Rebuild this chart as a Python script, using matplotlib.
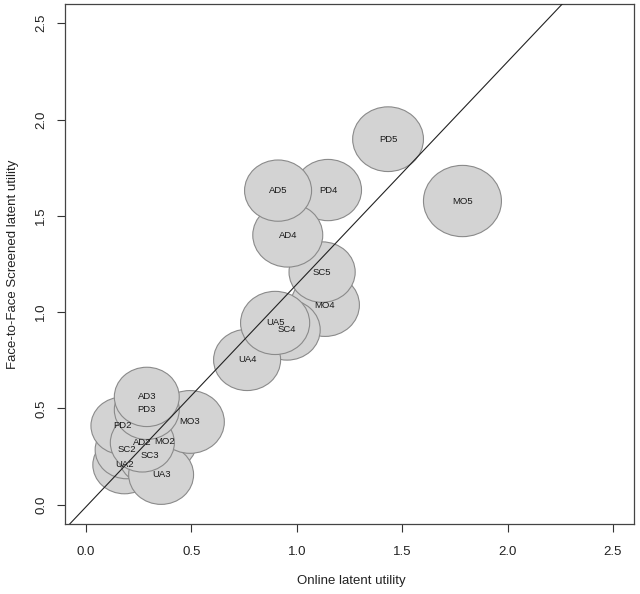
import matplotlib
matplotlib.use("Agg")
from matplotlib import pyplot as plt
from matplotlib.patches import Circle

plt.rcParams["font.family"] = ["Liberation Sans", "DejaVu Sans"]

# draw order: earlier items sit underneath later ones
labels = ["UA2", "SC2", "PD2", "SC3", "MO2", "UA3", "MO3", "AD2", "PD3", "AD3",
          "MO4", "SC4", "UA4", "UA5", "SC5", "PD4", "AD4", "AD5", "PD5", "MO5"]
online = [0.182, 0.193, 0.172, 0.304, 0.375, 0.356, 0.493, 0.267, 0.288, 0.288,
          1.134, 0.954, 0.764, 0.897, 1.120, 1.148, 0.957, 0.911, 1.433, 1.786]
f2f = [0.207, 0.285, 0.410, 0.254, 0.327, 0.156, 0.430, 0.322, 0.493, 0.560,
       1.037, 0.908, 0.752, 0.944, 1.208, 1.634, 1.400, 1.631, 1.898, 1.577]
radius = [0.150, 0.150, 0.149, 0.150, 0.150, 0.154, 0.163, 0.152, 0.154, 0.154,
          0.163, 0.157, 0.159, 0.164, 0.157, 0.159, 0.166, 0.159, 0.168, 0.185]

FIT_INTERCEPT = -0.01
FIT_SLOPE = 1.155

ticks = [0.0, 0.5, 1.0, 1.5, 2.0, 2.5]

fig = plt.figure(figsize=(6.4, 5.94), dpi=100)
ax = fig.add_axes([0.1016, 0.1178, 0.889, 0.8755])

for x, y, r in zip(online, f2f, radius):
    ax.add_patch(Circle((x, y), r, facecolor="#d3d3d3", edgecolor="#8a8a8a",
                        linewidth=0.8, zorder=2))
for x, y, lab in zip(online, f2f, labels):
    ax.text(x, y, lab, ha="center", va="center", fontsize=6.8, color="#1a1a1a", zorder=4)

ax.axline((0, FIT_INTERCEPT), slope=FIT_SLOPE, color="#222222", linewidth=0.8, zorder=3)

ax.set_xlim(-0.1, 2.6)
ax.set_ylim(-0.1, 2.6)
ax.set_xticks(ticks)
ax.set_yticks(ticks)
ax.set_xticklabels([f"{t:.1f}" for t in ticks])
ax.set_yticklabels([f"{t:.1f}" for t in ticks], rotation=90, va="center")
ax.tick_params(axis="both", direction="out", length=5.8, width=0.8, color="#333333",
               labelsize=9.5, labelcolor="#222222")
ax.tick_params(axis="x", pad=10)
ax.tick_params(axis="y", pad=7)
for spine in ax.spines.values():
    spine.set_linewidth(0.9)
    spine.set_color("#444444")

ax.set_xlabel("Online latent utility", fontsize=9.5, color="#222222")
ax.set_ylabel("Face-to-Face Screened latent utility", fontsize=9.5, color="#222222")
ax.xaxis.set_label_coords((351.5 - 65) / 569, -(575 - 524) / 520)
ax.yaxis.set_label_coords(-(65 - 19) / 569, 0.5)

fig.savefig("out.png", dpi=100)
